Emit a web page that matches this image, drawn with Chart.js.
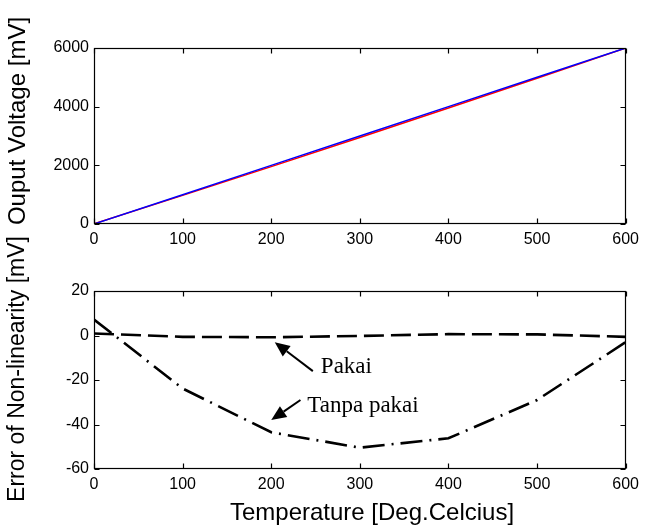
<!DOCTYPE html>
<html><head><meta charset="utf-8">
<script src="https://cdn.jsdelivr.net/npm/chart.js@4"></script>
<style>
html,body{margin:0;padding:0;background:#fff;}
#wrap{position:relative;width:645px;height:530px;overflow:hidden;background:#fff;}
canvas{position:absolute;left:0;}
#c1{top:0;}
#c2{top:230px;}
</style></head><body>
<div id="wrap">
<canvas id="c1" width="645" height="262"></canvas>
<canvas id="c2" width="645" height="300"></canvas>
</div>
<script>
// ---- data ----
const temperatures = [0, 100, 200, 300, 400, 500, 600];
const voltageTanpaPakai = [8, 976, 1957, 2950, 3954, 4971, 5997];
const voltagePakai = [1, 999, 1999, 3000, 4001, 5000, 5999];
const errorPakai = [0.9, -0.6, -0.8, -0.2, 0.6, 0.5, -0.6];
const errorTanpaPakai = [7.2, -23.8, -43.5, -50.4, -46.2, -29, -3];
const xTicks = [0, 100, 200, 300, 400, 500, 600];
const voltageTicks = [0, 2000, 4000, 6000];
const errorTicks = [-60, -40, -20, 0, 20];
const annotationLabels = ['Pakai', 'Tanpa pakai'];
const topYTitle = 'Ouput Voltage [mV]';
const bottomYTitle = 'Error of Non-linearity [mV]';
const xTitle = 'Temperature [Deg.Celcius]';

const SANS = "'Liberation Sans', Arial, sans-serif";
const SERIF = "'Liberation Serif', 'Times New Roman', serif";
const pts = (ys) => temperatures.map((t, i) => ({x: t, y: ys[i]}));

const framePlugin = {
  id: 'frame',
  afterDatasetsDraw(chart) {
    const {ctx, chartArea: a, scales} = chart;
    ctx.save();
    ctx.strokeStyle = '#000';
    ctx.lineWidth = 1.2;
    const L = Math.round(a.left) + 0.5, R = Math.round(a.right) - 0.5;
    const T = Math.round(a.top) + 0.5, B = Math.round(a.bottom) - 0.5;
    ctx.strokeRect(L, T, R - L, B - T);
    const len = 5;
    ctx.beginPath();
    scales.x.ticks.forEach(t => {
      const p = Math.round(scales.x.getPixelForValue(t.value)) + 0.5;
      ctx.moveTo(p, B); ctx.lineTo(p, B - len);
      ctx.moveTo(p, T); ctx.lineTo(p, T + len);
    });
    scales.y.ticks.forEach(t => {
      const p = Math.round(scales.y.getPixelForValue(t.value)) + 0.5;
      ctx.moveTo(L, p); ctx.lineTo(L + len, p);
      ctx.moveTo(R, p); ctx.lineTo(R - len, p);
    });
    ctx.stroke();
    ctx.restore();
  }
};

const textPlugin = {
  id: 'sideTitle',
  afterDraw(chart, args, opts) {
    const ctx = chart.ctx;
    (opts.items || []).forEach(o => {
      ctx.save();
      ctx.translate(o.x, o.y);
      ctx.rotate(o.rot || 0);
      ctx.font = o.font;
      ctx.fillStyle = '#000';
      ctx.textAlign = 'center';
      ctx.textBaseline = 'middle';
      ctx.fillText(o.text, 0, 0);
      ctx.restore();
    });
  }
};

const arrowNotePlugin = {
  id: 'arrowNotes',
  afterDatasetsDraw(chart, args, opts) {
    const {ctx, scales: {x, y}} = chart;
    (opts.items || []).forEach(it => {
      const tx = x.getPixelForValue(it.tip[0]), ty = y.getPixelForValue(it.tip[1]);
      const sx = x.getPixelForValue(it.tail[0]), sy = y.getPixelForValue(it.tail[1]);
      const ang = Math.atan2(ty - sy, tx - sx);
      const hl = 15, hw = 6.5;
      const bx = tx - hl * Math.cos(ang), by = ty - hl * Math.sin(ang);
      ctx.save();
      ctx.strokeStyle = '#000'; ctx.fillStyle = '#000'; ctx.lineWidth = 2;
      ctx.beginPath(); ctx.moveTo(sx, sy); ctx.lineTo(bx, by); ctx.stroke();
      ctx.beginPath();
      ctx.moveTo(tx, ty);
      ctx.lineTo(bx + hw * Math.sin(ang), by - hw * Math.cos(ang));
      ctx.lineTo(bx - hw * Math.sin(ang), by + hw * Math.cos(ang));
      ctx.closePath(); ctx.fill();
      ctx.font = opts.font;
      ctx.textAlign = 'left';
      ctx.textBaseline = 'alphabetic';
      ctx.fillText(it.label, x.getPixelForValue(it.text[0]), y.getPixelForValue(it.text[1]));
      ctx.restore();
    });
  }
};

const tickFont = {family: SANS, size: 16};
const plain = v => String(v);
function axisX(height) {
  return {
    type: 'linear', min: 0, max: 600,
    afterBuildTicks: s => { s.ticks = xTicks.map(v => ({value: v})); },
    afterFit: s => { s.height = height; },
    grid: {display: false, drawTicks: false},
    border: {display: false},
    ticks: {font: tickFont, color: '#000', padding: 6, maxRotation: 0, callback: plain}
  };
}
function axisY(min, max, tickVals) {
  return {
    type: 'linear', min: min, max: max,
    afterBuildTicks: s => { s.ticks = tickVals.map(v => ({value: v})); },
    afterFit: s => { s.width = 94; },
    grid: {display: false, drawTicks: false},
    border: {display: false},
    ticks: {font: tickFont, color: '#000', padding: 5, callback: plain}
  };
}

new Chart(document.getElementById('c1'), {
  type: 'line',
  data: {datasets: [
    {label: 'Pakai', data: pts(voltagePakai), borderColor: '#0000ff', borderWidth: 1.5, pointRadius: 0, tension: 0, fill: false},
    {label: 'Tanpa pakai', data: pts(voltageTanpaPakai), borderColor: '#ff0000', borderWidth: 1.5, pointRadius: 0, tension: 0, fill: false}
  ]},
  options: {
    responsive: false, animation: false, events: [],
    layout: {padding: {left: 0, right: 15, top: 48, bottom: 0}},
    plugins: {
      legend: {display: false}, tooltip: {enabled: false},
      sideTitle: {items: [{text: topYTitle, x: 18, y: 121, rot: -Math.PI / 2, font: '24px ' + SANS}]}
    },
    scales: {x: axisX(38), y: axisY(0, 6000, voltageTicks)}
  },
  plugins: [framePlugin, textPlugin]
});

new Chart(document.getElementById('c2'), {
  type: 'line',
  data: {datasets: [
    {label: 'Pakai', data: pts(errorPakai), borderColor: '#000', borderWidth: 2.6, borderDash: [20, 7], pointRadius: 0, tension: 0, fill: false},
    {label: 'Tanpa pakai', data: pts(errorTanpaPakai), borderColor: '#000', borderWidth: 2.6, borderDash: [22, 7, 2, 7], pointRadius: 0, tension: 0, fill: false}
  ]},
  options: {
    responsive: false, animation: false, events: [],
    layout: {padding: {left: 0, right: 15, top: 61, bottom: 0}},
    plugins: {
      legend: {display: false}, tooltip: {enabled: false},
      sideTitle: {items: [
        {text: bottomYTitle, x: 18, y: 139, rot: -Math.PI / 2, font: '23px ' + SANS},
        {text: xTitle, x: 372, y: 283, rot: 0, font: '24px ' + SANS}
      ]},
      arrowNotes: {
        font: '23px ' + SERIF,
        items: [
          {label: annotationLabels[0], tip: [204, -3], tail: [247, -16], text: [256, -16.9]},
          {label: annotationLabels[1], tip: [200, -38], tail: [233, -29], text: [240.7, -34.4]}
        ]
      }
    },
    scales: {x: axisX(61), y: axisY(-60, 20, errorTicks)}
  },
  plugins: [framePlugin, textPlugin, arrowNotePlugin]
});
</script>
</body></html>
